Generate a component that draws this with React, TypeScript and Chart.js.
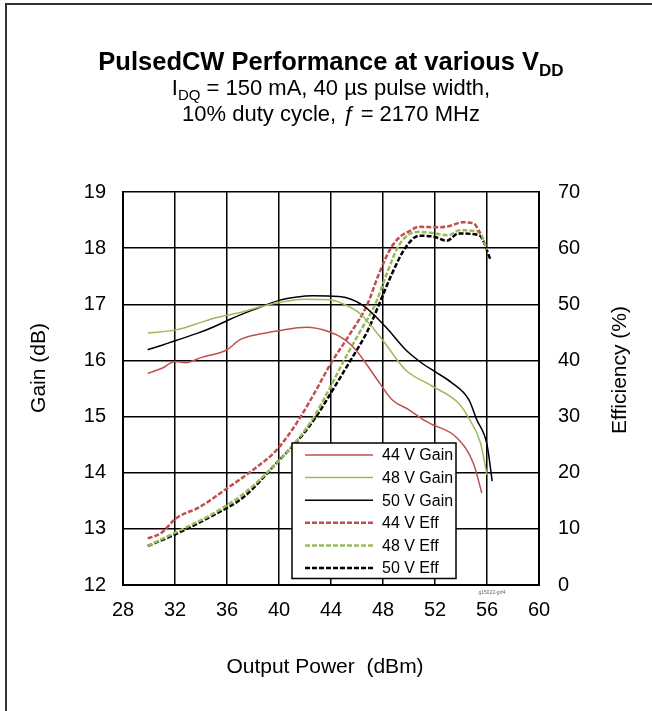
import React, { useEffect, useRef } from "react";
import { Chart, registerables } from "chart.js";

Chart.register(...registerables);

const FONT = '"Liberation Sans", Arial, Helvetica, sans-serif';

// Output power (dBm) / value pairs
const gain44X = [29.9, 31, 32, 32.8, 34, 36, 37, 38.5, 40.0, 42.1, 43.86, 45.0, 45.9, 47.4, 48.7, 50.0, 51.0, 51.6, 53.7, 54.95, 55.6];
const gain44Y = [15.77, 15.86, 15.98, 15.96, 16.05, 16.19, 16.37, 16.47, 16.53, 16.59, 16.51, 16.38, 16.19, 15.71, 15.3, 15.12, 14.96, 14.88, 14.62, 14.17, 13.64];

const gain48X = [29.9, 32, 33.5, 35, 37.3, 38.5, 40.0, 41.9, 43.9, 45.0, 46.2, 47.95, 49.74, 51.8, 53.8, 54.6, 55.5, 56.0];
const gain48Y = [16.49, 16.54, 16.64, 16.75, 16.87, 16.95, 17.03, 17.09, 17.08, 17.0, 16.84, 16.37, 15.83, 15.54, 15.24, 14.97, 14.53, 13.96];

const gain50X = [29.9, 31, 32, 33.8, 35, 36.2, 38, 40.0, 41.4, 42.6, 44.6, 46.4, 48.2, 49.74, 51.0, 52.0, 53.3, 54.6, 55.2, 56.0, 56.4];
const gain50Y = [16.19, 16.27, 16.35, 16.49, 16.6, 16.73, 16.9, 17.07, 17.13, 17.15, 17.14, 16.99, 16.6, 16.19, 15.95, 15.8, 15.6, 15.3, 14.95, 14.5, 13.85];

const eff44X = [29.9, 30.9, 32.1, 33.9, 36, 38, 39.8, 41.4, 42.8, 44.0, 45.4, 46.8, 47.7, 48.6, 49.3, 50.0, 50.76, 52.3, 53.2, 54.1, 54.97, 55.5];
const eff44Y = [8.3, 9.2, 11.9, 13.9, 17.2, 20.5, 24.0, 29.0, 34.5, 39.5, 44.5, 50.0, 55.5, 60.0, 62.0, 63.0, 63.8, 63.7, 64.0, 64.6, 64.4, 62.6];

const eff48X = [29.9, 31.9, 35.0, 37.3, 39.3, 41.4, 42.7, 44.0, 45.0, 46.2, 47.4, 48.3, 49.1, 49.9, 50.8, 51.8, 53.0, 53.9, 55.4, 56.0];
const eff48Y = [6.95, 9.2, 12.8, 16.3, 20.5, 25.8, 30.0, 35.5, 40.0, 45.0, 50.0, 55.5, 60.0, 62.3, 62.9, 62.7, 62.3, 63.2, 62.9, 59.7];

const eff50X = [29.9, 31.9, 35, 37.3, 39.8, 41.9, 43.0, 44.2, 45.5, 46.8, 47.7, 48.7, 49.7, 50.76, 52.0, 52.9, 53.8, 55.4, 56.3];
const eff50Y = [6.95, 8.9, 12.5, 15.7, 21.7, 27.0, 30.5, 35.0, 40.0, 45.2, 50.0, 55.5, 60.0, 62.2, 62.0, 61.3, 62.6, 62.3, 57.8];

const seriesLabels = ["44 V Gain", "48 V Gain", "50 V Gain", "44 V Eff", "48 V Eff", "50 V Eff"];

const RED = "#C0504D";
const GREEN = "#9BBB59";
const BLACK = "#000000";

const zip = (xs: number[], ys: number[]) => xs.map((x, i) => ({ x, y: ys[i] }));

const legendPlugin = {
  id: "insideLegend",
  afterDatasetsDraw(chart: any) {
    const { ctx, chartArea } = chart;
    const bx = chartArea.left + 169;
    const by = chartArea.bottom - 142;
    const bw = 164;
    const bh = 135.5;
    ctx.save();
    ctx.fillStyle = "#fff";
    ctx.fillRect(bx, by, bw, bh);
    ctx.strokeStyle = "#000";
    ctx.lineWidth = 1.5;
    ctx.setLineDash([]);
    ctx.strokeRect(bx, by, bw, bh);
    chart.data.datasets.forEach((ds: any, i: number) => {
      const cy = by + 12 + i * 22.6;
      ctx.beginPath();
      ctx.setLineDash(ds.borderDash || []);
      ctx.lineWidth = ds.borderWidth;
      ctx.strokeStyle = ds.borderColor;
      ctx.moveTo(bx + 13, cy);
      ctx.lineTo(bx + 81, cy);
      ctx.stroke();
      ctx.setLineDash([]);
      ctx.fillStyle = "#000";
      ctx.font = `16px ${FONT}`;
      ctx.textAlign = "left";
      ctx.textBaseline = "middle";
      ctx.fillText(ds.label, bx + 90, cy + 1);
    });
    ctx.restore();
  },
};

const axisTitlePlugin = {
  id: "axisTitles",
  afterDraw(chart: any) {
    const { ctx, chartArea } = chart;
    ctx.save();
    ctx.fillStyle = "#000";
    ctx.font = `21px ${FONT}`;
    ctx.textAlign = "center";
    ctx.textBaseline = "middle";
    ctx.save();
    ctx.translate(chartArea.left - 84, 368);
    ctx.rotate(-Math.PI / 2);
    ctx.fillText("Gain (dB)", 0, 0);
    ctx.restore();
    ctx.save();
    ctx.translate(chartArea.right + 81, 370);
    ctx.rotate(-Math.PI / 2);
    ctx.fillText("Efficiency (%)", 0, 0);
    ctx.restore();
    ctx.fillText("Output Power  (dBm)", 325, chartArea.bottom + 82);
    ctx.font = `5px ${FONT}`;
    ctx.fillStyle = "#666";
    ctx.fillText("g15022-grf4", chartArea.right - 47, chartArea.bottom + 8);
    ctx.restore();
  },
};

export default function App() {
  const ref = useRef<HTMLCanvasElement | null>(null);

  useEffect(() => {
    if (!ref.current) return;
    const solid = (label: string, color: string, xs: number[], ys: number[]) => ({
      label,
      data: zip(xs, ys),
      yAxisID: "y",
      borderColor: color,
      backgroundColor: color,
      borderWidth: 1.5,
      pointRadius: 0,
      cubicInterpolationMode: "monotone",
      fill: false,
    });
    const dashed = (label: string, color: string, xs: number[], ys: number[]) => ({
      label,
      data: zip(xs, ys),
      yAxisID: "y1",
      borderColor: color,
      backgroundColor: color,
      borderWidth: 2.5,
      borderDash: [5, 2],
      pointRadius: 0,
      cubicInterpolationMode: "monotone",
      fill: false,
    });
    const tickFont = { family: FONT, size: 20 };
    const chart = new Chart(ref.current, {
      type: "line",
      data: {
        datasets: [
          solid(seriesLabels[0], RED, gain44X, gain44Y),
          solid(seriesLabels[1], GREEN, gain48X, gain48Y),
          solid(seriesLabels[2], BLACK, gain50X, gain50Y),
          dashed(seriesLabels[3], RED, eff44X, eff44Y),
          dashed(seriesLabels[4], GREEN, eff48X, eff48Y),
          dashed(seriesLabels[5], BLACK, eff50X, eff50Y),
        ],
      },
      options: {
        animation: false,
        responsive: false,
        devicePixelRatio: 1,
        layout: { padding: { top: 192, left: 0, right: 0, bottom: 0 } },
        plugins: { legend: { display: false }, title: { display: false }, tooltip: { enabled: false } },
        scales: {
          x: {
            type: "linear",
            min: 28,
            max: 60,
            ticks: { stepSize: 4, font: tickFont, color: "#000", padding: 13 },
            grid: { color: "#000", lineWidth: 1.5, drawTicks: false },
            border: { color: "#000", width: 2 },
            afterFit: (s: any) => { s.height = 126; },
          },
          y: {
            type: "linear",
            position: "left",
            min: 12,
            max: 19,
            ticks: { stepSize: 1, font: tickFont, color: "#000", padding: 17 },
            grid: { color: "#000", lineWidth: 1.5, drawTicks: false },
            border: { color: "#000", width: 2 },
            afterFit: (s: any) => { s.width = 123; },
          },
          y1: {
            type: "linear",
            position: "right",
            min: 0,
            max: 70,
            ticks: { stepSize: 10, font: tickFont, color: "#000", padding: 19 },
            grid: { display: false, drawTicks: false },
            border: { color: "#000", width: 2 },
            afterFit: (s: any) => { s.width = 113; },
          },
        },
      } as any,
      plugins: [legendPlugin, axisTitlePlugin],
    });
    return () => chart.destroy();
  }, []);

  const sub = (txt: string, size: number) => (
    <span style={{ fontSize: size, position: "relative", top: "0.35em" }}>{txt}</span>
  );

  return (
    <div style={{ position: "fixed", left: 0, top: 0, width: 652, height: 711, overflow: "hidden", background: "#fff", fontFamily: FONT }}>
      <div style={{ position: "absolute", left: 5, top: 3, width: 800, height: 800, borderLeft: "2px solid #333", borderTop: "2px solid #333" }} />
      <canvas ref={ref} width={652} height={711} style={{ position: "absolute", left: 0, top: 0 }} />
      <div style={{ position: "absolute", left: 0, width: 662, top: 46, lineHeight: "30px", textAlign: "center", fontSize: 25.5, fontWeight: "bold", color: "#000", whiteSpace: "nowrap" }}>
        PulsedCW Performance at various V{sub("DD", 17)}
      </div>
      <div style={{ position: "absolute", left: 0, width: 662, top: 76, lineHeight: "24px", textAlign: "center", fontSize: 22, color: "#000", whiteSpace: "nowrap" }}>
        I{sub("DQ", 15)} = 150 mA, 40 µs pulse width,
        <br />
        10% duty cycle, <i>ƒ</i> = 2170 MHz
      </div>
    </div>
  );
}
